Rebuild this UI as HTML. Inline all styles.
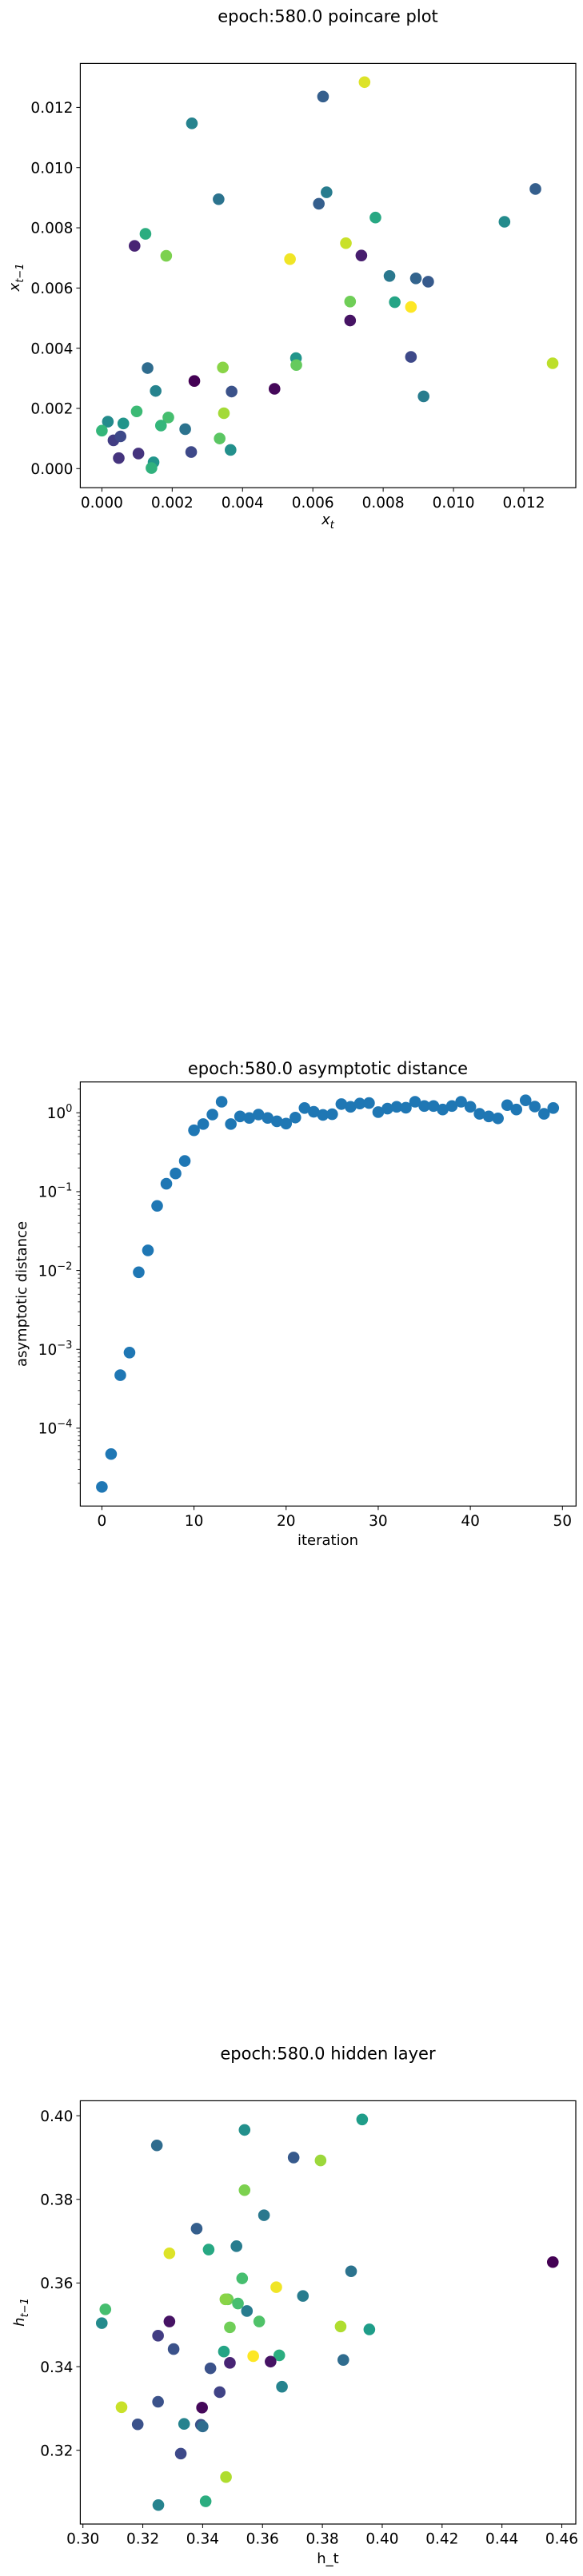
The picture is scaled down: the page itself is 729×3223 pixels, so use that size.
<!DOCTYPE html>
<html><head><meta charset="utf-8">
<style>
html,body{margin:0;padding:0;background:#fff;}
svg{display:block;font-family:"DejaVu Sans","Liberation Sans",sans-serif;}
</style></head>
<body>
<svg id="fig" width="729" height="3223" viewBox="0 0 729 3223" xmlns="http://www.w3.org/2000/svg"></svg>
<script>
// ---------- Plot 1: poincare plot ----------
const p1X = [0.00747,0.00629,0.00256,0.01233,0.00332,0.00639,0.00617,0.00778,0.01145,0.00124,0.00093,0.00183,0.00694,0.00535,0.00738,0.00818,0.00893,0.00928,0.00706,0.00833,0.00879,0.00706,0.00552,0.00553,0.00879,0.01282,0.0013,0.00344,0.00263,0.00491,0.00153,0.00369,0.00915,0.00099,0.00189,0.00168,0.00347,0.00017,0.00061,0.0,0.00237,0.00033,0.00053,0.00335,0.00366,0.00254,0.00104,0.00048,0.00147,0.00141];
const p1Y = [0.01284,0.01236,0.01147,0.00929,0.00895,0.00918,0.0088,0.00834,0.0082,0.0078,0.0074,0.00707,0.00749,0.00696,0.00708,0.0064,0.00632,0.00621,0.00555,0.00553,0.00537,0.00492,0.00367,0.00344,0.00371,0.0035,0.00334,0.00336,0.00291,0.00265,0.00258,0.00256,0.0024,0.0019,0.0017,0.00143,0.00184,0.00156,0.0015,0.00126,0.00131,0.00094,0.00107,0.001,0.00062,0.00055,0.0005,0.00035,0.00021,0.00002];
const p1C = [0.95,0.3,0.45,0.3,0.38,0.42,0.3,0.6,0.48,0.62,0.1,0.8,0.92,0.98,0.08,0.4,0.32,0.28,0.78,0.58,1.0,0.05,0.52,0.76,0.22,0.9,0.35,0.82,0.0,0.02,0.45,0.25,0.42,0.68,0.7,0.66,0.86,0.48,0.52,0.66,0.38,0.18,0.22,0.74,0.5,0.22,0.15,0.15,0.52,0.64];
const p1XTicks = ["0.000","0.002","0.004","0.006","0.008","0.010","0.012"];
const p1YTicks = ["0.000","0.002","0.004","0.006","0.008","0.010","0.012"];

// ---------- Plot 2: asymptotic distance ----------
const p2Iter = [0,1,2,3,4,5,6,7,8,9,10,11,12,13,14,15,16,17,18,19,20,21,22,23,24,25,26,27,28,29,30,31,32,33,34,35,36,37,38,39,40,41,42,43,44,45,46,47,48,49];
const p2Dist = [1.8e-5,4.7e-5,4.7e-4,9.1e-4,0.0095,0.018,0.066,0.126,0.17,0.245,0.60,0.72,0.95,1.38,0.72,0.90,0.86,0.95,0.86,0.78,0.73,0.87,1.15,1.03,0.94,0.96,1.29,1.19,1.31,1.33,1.02,1.13,1.19,1.16,1.38,1.22,1.22,1.10,1.22,1.38,1.19,0.97,0.90,0.85,1.25,1.10,1.44,1.20,0.97,1.15];
const p2XTicks = [0,10,20,30,40,50];
const p2YTickExp = [-4,-3,-2,-1,0];

// ---------- Plot 3: hidden layer ----------
const p3X = [0.3933,0.3540,0.3247,0.3704,0.3794,0.3540,0.3605,0.3380,0.3289,0.3420,0.3513,0.4570,0.3896,0.3532,0.3646,0.3735,0.3484,0.3476,0.3518,0.3548,0.3075,0.3063,0.3289,0.3589,0.3491,0.3861,0.3957,0.3251,0.3303,0.3471,0.3569,0.3656,0.3491,0.3627,0.3870,0.3426,0.3665,0.3457,0.3251,0.3129,0.3398,0.3183,0.3338,0.3394,0.3400,0.3327,0.3478,0.3410,0.3252];
const p3Y = [0.3991,0.3966,0.3929,0.3900,0.3893,0.3822,0.3762,0.3730,0.3671,0.3680,0.3688,0.3650,0.3628,0.3611,0.3590,0.3569,0.3561,0.3561,0.3551,0.3533,0.3537,0.3504,0.3508,0.3508,0.3494,0.3496,0.3489,0.3474,0.3442,0.3436,0.3425,0.3427,0.3409,0.3412,0.3416,0.3396,0.3352,0.3339,0.3316,0.3303,0.3302,0.3262,0.3263,0.3261,0.3257,0.3192,0.3136,0.3078,0.3069];
const p3C = [0.55,0.5,0.35,0.28,0.85,0.8,0.4,0.3,0.95,0.6,0.42,0.0,0.38,0.7,0.98,0.42,0.78,0.82,0.7,0.42,0.7,0.48,0.05,0.72,0.78,0.88,0.55,0.18,0.25,0.58,1.0,0.62,0.1,0.05,0.35,0.25,0.45,0.2,0.25,0.92,0.02,0.25,0.45,0.25,0.35,0.22,0.88,0.62,0.45];
const p3XTicks = ["0.30","0.32","0.34","0.36","0.38","0.40","0.42","0.44","0.46"];
const p3YTicks = ["0.32","0.34","0.36","0.38","0.40"];

const NS = "http://www.w3.org/2000/svg";
const svg = document.getElementById('fig');
function mk(tag, attrs, parent){ const e=document.createElementNS(NS,tag); for(const k in attrs) e.setAttribute(k,attrs[k]); (parent||svg).appendChild(e); return e; }
const VIR = [[68,1,84],[72,40,120],[62,74,137],[49,104,142],[38,130,142],[31,158,137],[53,183,121],[110,206,88],[181,222,43],[253,231,37]];
function viridis(t){ t=Math.max(0,Math.min(1,t))*(VIR.length-1); const i=Math.min(Math.floor(t),VIR.length-2), f=t-i; const a=VIR[i],b=VIR[i+1]; return 'rgb('+a.map((v,k)=>Math.round(v+(b[k]-v)*f)).join(',')+')'; }
function axisScale(d0,d1,p0,p1){ return v=>p0+(v-d0)/(d1-d0)*(p1-p0); }
const TICKFS = 18.5;

function frame(g, L,T,R,B){ const r=mk('rect',{x:L,y:T,width:R-L,height:B-T,fill:'none',stroke:'#000','stroke-width':1.2},g);   }
function xtick(g,px,B,label){ mk('line',{x1:px,y1:B,x2:px,y2:B+5,stroke:'#000','stroke-width':1},g); const t=mk('text',{x:px,y:B+24.7,'font-size':TICKFS,'text-anchor':'middle'},g); t.textContent=label;   }
function ytick(g,py,L,label){ mk('line',{x1:L-5,y1:py,x2:L,y2:py,stroke:'#000','stroke-width':1},g); const t=mk('text',{x:L-9,y:py+6.7,'font-size':TICKFS,'text-anchor':'end'},g); t.textContent=label;   return t; }
function title(txt,y,name){ const t=mk('text',{x:410,y:y+7,'font-size':21,'text-anchor':'middle'}); t.textContent=txt;   }

// ---- Plot 1 ----
(function(){
  const L=100.4,R=720,T=79.4,B=610.2;
  const g=mk('g',{});  
  const sx=axisScale(0,0.012,127.4,655.0), sy=axisScale(0,0.012,586.3,134.4);
  title('epoch:580.0 poincare plot',20.4,'poincare-title');
  p1XTicks.forEach(l=>xtick(g,sx(parseFloat(l)),B,l));
  p1YTicks.forEach(l=>ytick(g,sy(parseFloat(l)),L,l));
  for(let i=0;i<p1X.length;i++){ const c=mk('circle',{cx:sx(p1X[i]),cy:sy(p1Y[i]),r:7.3,fill:viridis(p1C[i])},g);   }
  frame(g,L,T,R,B);
  const xl=mk('text',{x:410,y:656,'font-size':18,'text-anchor':'middle','font-style':'italic'},g); xl.innerHTML='x<tspan font-size="13" dy="5">t</tspan>';
   
  const yl=mk('text',{x:0,y:0,'font-size':18,'text-anchor':'middle','font-style':'italic',transform:'translate(24,347) rotate(-90)'},g); yl.innerHTML='x<tspan font-size="13" dy="5">t−1</tspan>';
   
})();

// ---- Plot 2 ----
(function(){
  const L=100.4,R=720.3,T=1353.7,B=1884.3;
  const g=mk('g',{});  
  const sx=axisScale(0,50,127.4,703.3);
  const sly=axisScale(0,-4,1392.3,1786.9);
  const sy=v=>sly(Math.log10(v));
  title('epoch:580.0 asymptotic distance',1337,'asymptotic-title');
  p2XTicks.forEach(v=>xtick(g,sx(v),B,String(v)));
  p2YTickExp.forEach(e=>{ const t=ytick(g,sly(e),L,''); t.setAttribute('x',L-24); t.innerHTML='10<tspan font-size="13" dy="-8">−'+(e===0?'':'')+'</tspan>'; if(e===0){t.innerHTML='10<tspan font-size="13" dy="-8">0</tspan>';t.setAttribute('x',L-10);} else {t.innerHTML='10<tspan font-size="13" dy="-8">−'+(-e)+'</tspan>';t.setAttribute('x',L-10);} });
  for(let d=-5;d<=0;d++){ for(let m=2;m<=9;m++){ const py=sly(d+Math.log10(m)); if(py>T&&py<B) mk('line',{x1:L-3,y1:py,x2:L,y2:py,stroke:'#000','stroke-width':0.8},g); } }
  for(let i=0;i<p2Iter.length;i++){ const c=mk('circle',{cx:sx(p2Iter[i]),cy:sy(p2Dist[i]),r:7.3,fill:'#1f77b4'},g);   }
  frame(g,L,T,R,B);
  const xl=mk('text',{x:410,y:1933,'font-size':18,'text-anchor':'middle'},g); xl.textContent='iteration';
   
  const yl=mk('text',{x:0,y:0,'font-size':18,'text-anchor':'middle',transform:'translate(33,1619) rotate(-90)'},g); yl.textContent='asymptotic distance';
   
})();

// ---- Plot 3 ----
(function(){
  const L=100.4,R=720,T=2628.4,B=3158;
  const g=mk('g',{});  
  const sx=axisScale(0.30,0.46,103.7,702.5), sy=axisScale(0.32,0.40,3065.7,2647.1);
  title('epoch:580.0 hidden layer',2569.6,'hidden-layer-title');
  p3XTicks.forEach(l=>xtick(g,sx(parseFloat(l)),B,l));
  p3YTicks.forEach(l=>ytick(g,sy(parseFloat(l)),L,l));
  for(let i=0;i<p3X.length;i++){ const c=mk('circle',{cx:sx(p3X[i]),cy:sy(p3Y[i]),r:7.3,fill:viridis(p3C[i])},g);   }
  frame(g,L,T,R,B);
  const xl=mk('text',{x:410,y:3207,'font-size':18,'text-anchor':'middle'},g); xl.textContent='h_t';
   
  const yl=mk('text',{x:0,y:0,'font-size':18,'text-anchor':'middle','font-style':'italic',transform:'translate(30,2893) rotate(-90)'},g); yl.innerHTML='h<tspan font-size="13" dy="5">t−1</tspan>';
   
})();
</script>
</body></html>
